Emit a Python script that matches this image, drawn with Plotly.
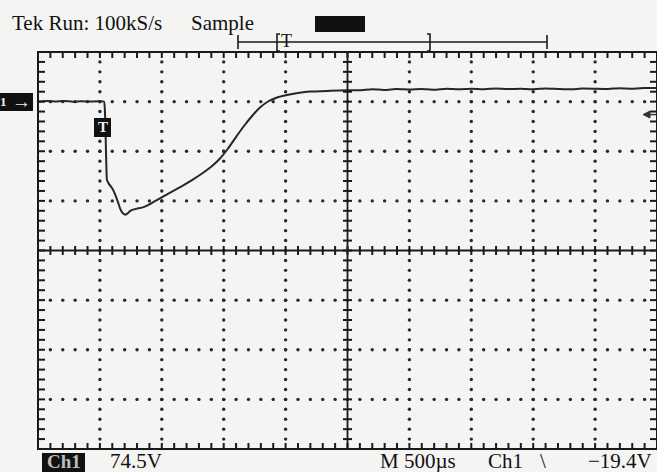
import plotly.graph_objects as go

# ---- scope settings -------------------------------------------------------
VOLTS_PER_DIV = 74.5      # Ch1 vertical scale
TIME_PER_DIV = 500        # µs, horizontal scale (M 500µs)
H_DIVS = 10
V_DIVS = 8
GROUND_DIV_ABOVE_TOP = 1  # ground marker sits one division below the top edge
TRIG_LEVEL = -19.4        # V, falling-edge trigger

# ---- captured Ch1 waveform (time from left edge of screen) ---------------
time_us = [0, 70, 140, 210, 280, 350, 420, 490, 533,
           541, 549, 553, 557, 574, 598, 622, 646, 662, 678, 695,
           711, 727, 743, 767, 800, 840, 880, 945, 1010, 1082,
           1163, 1244, 1325, 1406, 1470, 1535, 1599, 1664, 1729, 1793,
           1858, 1931, 2011, 2100, 2197, 2359, 2520,
           2600, 2700, 2800, 2900, 3000, 3100, 3200, 3300, 3400, 3500,
           3600, 3700, 3800, 3900, 4000, 4100, 4200, 4300, 4400, 4500,
           4600, 4700, 4800, 4900, 5000]
ch1_volts = [0.0, 0.8, 0.3, 0.9, 0.0, 0.5, 0.2, 0.4, 0.0,
             -15.6, -72.7, -102.7, -117.8, -123.8, -129.8, -138.8, -150.8, -159.8, -165.8, -168.8,
             -169.6, -167.3, -164.3, -162.1, -160.6, -159.1, -156.1, -149.3, -142.5, -135.0,
             -126.7, -117.7, -107.9, -96.7, -85.4, -70.4, -53.2, -36.6, -21.6, -8.9,
             0.2, 6.2, 9.9, 12.9, 15.2, 16.2, 17.1,
             17.0, 18.5, 17.6, 19.0, 18.2, 18.8, 17.9, 19.5, 18.4, 19.2,
             18.7, 19.8, 18.8, 19.4, 18.6, 19.8, 19.1, 18.6, 19.6, 19.3,
             19.0, 20.2, 19.5, 20.4, 20.6]

# ---- screen geometry ------------------------------------------------------
x_max = H_DIVS * TIME_PER_DIV
y_top = GROUND_DIV_ABOVE_TOP * VOLTS_PER_DIV
y_bot = y_top - V_DIVS * VOLTS_PER_DIV
y_mid = (y_top + y_bot) / 2
x_mid = x_max / 2
dx_minor = TIME_PER_DIV / 5
dy_minor = VOLTS_PER_DIV / 5

W, H = 657, 472
ML, MT, MR, MB = 38, 52, 0, 23
plot_w = W - ML - MR
plot_h = H - MT - MB

INK = "#1a1a1a"
BG = "#f4f4f3"

# graticule dots along the dotted division lines
dot_x, dot_y = [], []
for k in range(1, H_DIVS):
    if k == H_DIVS // 2:
        continue
    for j in range(1, V_DIVS * 5):
        dot_x.append(k * TIME_PER_DIV)
        dot_y.append(y_bot + j * dy_minor)
for m in range(1, V_DIVS):
    if m == V_DIVS // 2:
        continue
    for i in range(1, H_DIVS * 5):
        dot_x.append(i * dx_minor)
        dot_y.append(y_bot + m * VOLTS_PER_DIV)


def px(x):
    """pixel column -> paper fraction"""
    return (x - ML) / plot_w


def py(y):
    """pixel row -> paper fraction"""
    return (H - MB - y) / plot_h


def fx(t):
    """time value -> paper fraction"""
    return t / x_max


def fy(v):
    """voltage value -> paper fraction"""
    return (v - y_bot) / (y_top - y_bot)


shapes = []


def tick(x0, y0, x1, y1, width=2.0):
    shapes.append(dict(type="line", xref="paper", yref="paper",
                       x0=x0, y0=y0, x1=x1, y1=y1, layer="above",
                       line=dict(color=INK, width=width)))


# minor-division ticks on the border and the centre cross
EDGE = 6
CROSS = 4.5
for i in range(1, H_DIVS * 5):
    xf = fx(i * dx_minor)
    tick(xf, 1, xf, 1 - EDGE / plot_h)
    tick(xf, 0, xf, EDGE / plot_h)
    tick(xf, fy(y_mid) - CROSS / plot_h, xf, fy(y_mid) + CROSS / plot_h)
for j in range(1, V_DIVS * 5):
    yf = fy(y_bot + j * dy_minor)
    tick(0, yf, (EDGE + 1) / plot_w, yf)
    tick(1, yf, 1 - (EDGE + 1) / plot_w, yf)
    tick(fx(x_mid) - CROSS / plot_w, yf, fx(x_mid) + CROSS / plot_w, yf)

# centre cross and border
tick(0, fy(y_mid), 1, fy(y_mid), width=1.8)
tick(fx(x_mid), 0, fx(x_mid), 1, width=1.8)
shapes.append(dict(type="rect", xref="paper", yref="paper", x0=0, y0=0, x1=1, y1=1,
                   line=dict(color=INK, width=2)))

# run-state block next to "Sample"
shapes.append(dict(type="rect", xref="paper", yref="paper",
                   x0=px(315), x1=px(365), y0=py(32), y1=py(16),
                   fillcolor="#111", line=dict(width=0)))
# record-length bar above the screen
for x0, y0, x1, y1 in [(238, 42, 547, 42), (238, 35, 238, 49), (547, 35, 547, 49)]:
    tick(px(x0), py(y0), px(x1), py(y1), width=1.6)
shapes.append(dict(type="path", xref="paper", yref="paper",
                   path=f"M {px(280)},{py(34)} L {px(277)},{py(34)} L {px(277)},{py(51)} L {px(280)},{py(51)}",
                   line=dict(color=INK, width=1.6)))
shapes.append(dict(type="path", xref="paper", yref="paper",
                   path=f"M {px(427)},{py(34)} L {px(430)},{py(34)} L {px(430)},{py(51)} L {px(427)},{py(51)}",
                   line=dict(color=INK, width=1.6)))
# Ch1 ground marker, trigger position marker, Ch1 readout box
for x0, y0, x1, y1 in [(0, 93, 33, 111), (94, 118, 111, 137), (42, 453, 85, 472)]:
    shapes.append(dict(type="rect", xref="paper", yref="paper",
                       x0=px(x0), x1=px(x1), y0=py(y1), y1=py(y0),
                       fillcolor="#111", line=dict(width=0)))
# trigger level arrow on the right edge
trig_y = fy(TRIG_LEVEL)
shapes.append(dict(type="path", xref="paper", yref="paper",
                   path=f"M {px(643)},{trig_y} L {px(650)},{trig_y + 3.5 / plot_h} "
                        f"L {px(650)},{trig_y - 3.5 / plot_h} Z",
                   fillcolor="#333", line=dict(color="#333", width=1)))
shapes.append(dict(type="line", xref="paper", yref="paper",
                   x0=px(650), x1=px(657), y0=trig_y, y1=trig_y,
                   line=dict(color="#333", width=1.5)))

fig = go.Figure()
fig.add_trace(go.Scatter(x=dot_x, y=dot_y, mode="markers",
                         marker=dict(size=3.4, color="#2a2a2a"),
                         hoverinfo="skip", showlegend=False))
fig.add_trace(go.Scatter(x=time_us, y=ch1_volts, mode="lines",
                         line=dict(color="#262626", width=2.0, shape="spline",
                                   smoothing=0.4),
                         name="Ch1", showlegend=False))

SERIF = "Liberation Serif, Times New Roman, serif"


def label(text, x, y, size=21, color="#111", anchor="left", bold=False):
    t = f"<b>{text}</b>" if bold else text
    return dict(text=t, xref="paper", yref="paper", x=px(x), y=py(y),
                xanchor=anchor, yanchor="middle", showarrow=False,
                font=dict(family=SERIF, size=size, color=color))


annotations = [
    label("Tek Run: 100kS/s", 10, 23),
    label("Sample", 189, 23),
    label("T", 286.5, 41, size=18, anchor="center"),
    label("1", 3, 102, size=13, color="#eee", anchor="center", bold=True),
    label("→", 21, 101, size=19, color="#eee", anchor="center", bold=True),
    label("T", 102.5, 127.5, size=15, color="#f2f2f2", anchor="center", bold=True),
    label("Ch1", 63.5, 461, size=19, color="#bdbdbd", anchor="center", bold=True),
    label("74.5V", 108, 461),
    label("M 500µs", 378, 461),
    label("Ch1", 486, 461),
    label("\\", 543, 461, anchor="center"),
    label("−19.4V", 586, 461),
]

fig.update_layout(
    width=W, height=H,
    margin=dict(l=ML, r=MR, t=MT, b=MB),
    paper_bgcolor=BG, plot_bgcolor=BG,
    shapes=shapes, annotations=annotations,
    xaxis=dict(range=[0, x_max], showgrid=False, zeroline=False,
               showticklabels=False, ticks="", fixedrange=True),
    yaxis=dict(range=[y_bot, y_top], showgrid=False, zeroline=False,
               showticklabels=False, ticks="", fixedrange=True),
)

fig.write_html("out.html")
